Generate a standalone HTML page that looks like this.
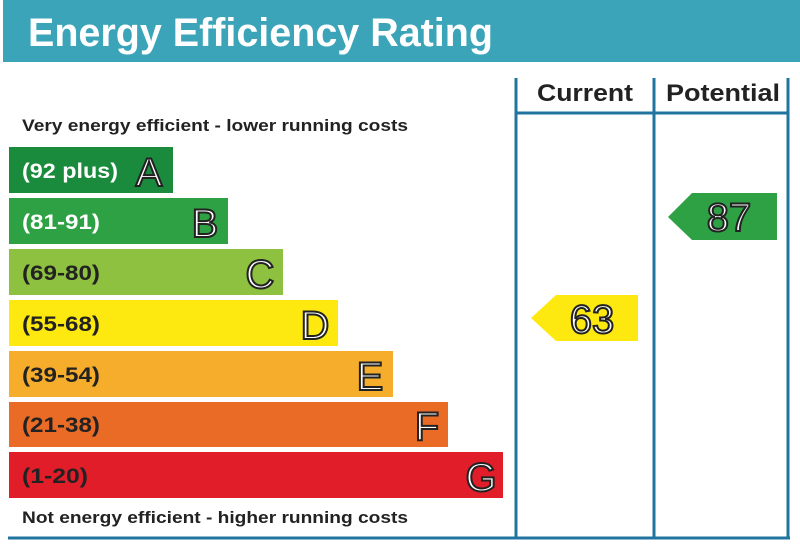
<!DOCTYPE html>
<html><head><style>body{margin:0;background:#fff}</style></head><body>
<svg width="800" height="554" viewBox="0 0 800 554" xmlns="http://www.w3.org/2000/svg" font-family="Liberation Sans, sans-serif">
<rect x="0" y="0" width="800" height="554" fill="#fff"/>
<rect x="3" y="0" width="797" height="62" fill="#3ba4b9"/>
<text x="28" y="46" font-size="40" font-weight="bold" fill="#fff" textLength="465" lengthAdjust="spacingAndGlyphs">Energy Efficiency Rating</text>
<g stroke="#2274a0" stroke-width="3" fill="none">
<line x1="516" y1="78" x2="516" y2="538"/>
<line x1="654" y1="78" x2="654" y2="538"/>
<line x1="788" y1="78" x2="788" y2="538"/>
<line x1="516" y1="113" x2="788" y2="113"/>
<line x1="8" y1="538" x2="790" y2="538"/>
</g>
<text x="537" y="101" font-size="24" font-weight="bold" fill="#222" textLength="96" lengthAdjust="spacingAndGlyphs">Current</text>
<text x="666" y="101" font-size="24" font-weight="bold" fill="#222" textLength="114" lengthAdjust="spacingAndGlyphs">Potential</text>
<text x="22" y="131" font-size="17" font-weight="bold" fill="#222" textLength="386" lengthAdjust="spacingAndGlyphs">Very energy efficient - lower running costs</text>
<text x="22" y="523" font-size="17" font-weight="bold" fill="#222" textLength="386" lengthAdjust="spacingAndGlyphs">Not energy efficient - higher running costs</text>
<g font-weight="bold" font-size="21" lengthAdjust="spacingAndGlyphs">
<rect x="9" y="147" width="164" height="46" fill="#1a8a3c"/>
<text x="22" y="178" fill="#fff" textLength="96" lengthAdjust="spacingAndGlyphs">(92 plus)</text>
<rect x="9" y="198" width="219" height="46" fill="#2da143"/>
<text x="22" y="229" fill="#fff" textLength="78" lengthAdjust="spacingAndGlyphs">(81-91)</text>
<rect x="9" y="249" width="274" height="46" fill="#8dc13f"/>
<text x="22" y="280" fill="#222" textLength="78" lengthAdjust="spacingAndGlyphs">(69-80)</text>
<rect x="9" y="300" width="329" height="46" fill="#fde910"/>
<text x="22" y="331" fill="#222" textLength="78" lengthAdjust="spacingAndGlyphs">(55-68)</text>
<rect x="9" y="351" width="384" height="46" fill="#f5ad2b"/>
<text x="22" y="382" fill="#222" textLength="78" lengthAdjust="spacingAndGlyphs">(39-54)</text>
<rect x="9" y="402" width="439" height="45" fill="#ea6b25"/>
<text x="22" y="432" fill="#222" textLength="78" lengthAdjust="spacingAndGlyphs">(21-38)</text>
<rect x="9" y="452" width="494" height="46" fill="#e21d2a"/>
<text x="22" y="483" fill="#222" textLength="66" lengthAdjust="spacingAndGlyphs">(1-20)</text>
</g>
<g font-size="40" fill="#fff" stroke="#222" stroke-width="2" text-anchor="middle">
<text x="149" y="186">A</text>
<text x="205" y="237">B</text>
<text x="260" y="288">C</text>
<text x="315" y="339">D</text>
<text x="370" y="390">E</text>
<text x="427" y="440">F</text>
<text x="481" y="491">G</text>
</g>
<polygon points="531,318 556,295 638,295 638,341 556,341" fill="#fde910"/>
<text x="592" y="333" font-size="40" fill="#fff" stroke="#222" stroke-width="2" text-anchor="middle">63</text>
<polygon points="668,217 692,193 777,193 777,240 692,240" fill="#2da143"/>
<text x="729" y="231" font-size="40" fill="#fff" stroke="#222" stroke-width="2" text-anchor="middle">87</text>
</svg>
</body></html>
